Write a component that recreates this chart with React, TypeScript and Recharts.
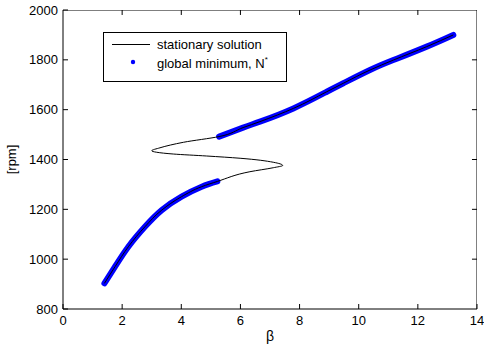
import React from 'react';
import { ComposedChart, Line, XAxis, YAxis, Legend } from 'recharts';

// stationary solution: [beta, rpm] (ordered by rpm)
const stationaryBeta = [1.4, 1.76, 2.21, 2.77, 3.34, 4.01, 4.69, 5.22, 6.32, 7.11, 7.43, 7.11, 5.99, 4.86, 3.73, 3.17, 3.0, 3.28, 4.07, 5.28, 6.09, 6.66, 7.79, 8.92, 9.48, 10.38, 11.17, 12.3, 13.2];
const stationaryRpm = [903, 970, 1050, 1130, 1197, 1251, 1291, 1312, 1351, 1367, 1376, 1389, 1405, 1414, 1422, 1429, 1435, 1447, 1469, 1492, 1528, 1552, 1605, 1672, 1706, 1759, 1799, 1853, 1900];

// global minimum branches
const lowerMinBeta = [1.4, 1.76, 2.21, 2.77, 3.34, 4.01, 4.69, 5.22];
const lowerMinRpm = [903, 970, 1050, 1130, 1197, 1251, 1291, 1312];
const upperMinBeta = [5.28, 6.09, 6.66, 7.79, 8.92, 9.48, 10.38, 11.17, 12.3, 13.2];
const upperMinRpm = [1492, 1528, 1552, 1605, 1672, 1706, 1759, 1799, 1853, 1900];

const xTicks = [0, 2, 4, 6, 8, 10, 12, 14];
const yTicks = [800, 1000, 1200, 1400, 1600, 1800, 2000];

const legendLine = 'stationary solution';
const legendDot = 'global minimum, N';

const zip = (xs: number[], ys: number[]) => xs.map((b, i) => ({ beta: b, rpm: ys[i] }));
const stationary = zip(stationaryBeta, stationaryRpm);
const lowerMin = zip(lowerMinBeta, lowerMinRpm);
const upperMin = zip(upperMinBeta, upperMinRpm);

const X_MIN = 0, X_MAX = 14, Y_MIN = 800, Y_MAX = 2000;
// inward tick length on the top/right edges, in data units (about 5 px)
const TOP_TICK_LEN = 20;
const RIGHT_TICK_LEN = 0.17;

// box frame (top and right edges) and inward ticks, drawn through the chart scales
const frame = [
  { beta: X_MIN, rpm: Y_MAX },
  { beta: X_MAX, rpm: Y_MAX },
  { beta: X_MAX, rpm: Y_MIN },
];
const topTicks = xTicks.slice(1, -1).map((t) => [
  { beta: t, rpm: Y_MAX },
  { beta: t, rpm: Y_MAX - TOP_TICK_LEN },
]);
const rightTicks = yTicks.slice(1, -1).map((t) => [
  { beta: X_MAX, rpm: t },
  { beta: X_MAX - RIGHT_TICK_LEN, rpm: t },
]);

const FONT = '"Liberation Sans", Arial, Helvetica, sans-serif';
const TICK = 5;

const BottomTick = (p: any) => (
  <g>
    <line x1={p.x} y1={p.y} x2={p.x} y2={p.y - TICK} stroke="#000" strokeWidth={1} />
    <text x={p.x} y={p.y + 16} textAnchor="middle" fontSize={13} fontFamily={FONT} fill="#000">
      {p.payload.value}
    </text>
  </g>
);
const LeftTick = (p: any) => (
  <g>
    <line x1={p.x} y1={p.y} x2={p.x + TICK} y2={p.y} stroke="#000" strokeWidth={1} />
    <text x={p.x - 5} y={p.y} dy="0.35em" textAnchor="end" fontSize={13} fontFamily={FONT} fill="#000">
      {p.payload.value}
    </text>
  </g>
);

const LegendBox = () => (
  <svg width={185} height={51} style={{ display: 'block' }}>
    <rect x={0.5} y={0.5} width={183} height={49} fill="#fff" stroke="#000" strokeWidth={1} />
    <line x1={9} y1={12.5} x2={47} y2={12.5} stroke="#000" strokeWidth={1} />
    <text x={54} y={12.5} dy="0.35em" fontSize={13} fontFamily={FONT} fill="#000">{legendLine}</text>
    <circle cx={30} cy={30} r={2.2} fill="#0000ff" />
    <text x={54} y={31} dy="0.35em" fontSize={13} fontFamily={FONT} fill="#000">
      {legendDot}
      <tspan fontSize={8} dy={-6}>*</tspan>
    </text>
  </svg>
);

export default function App() {
  return (
    <div style={{ position: 'absolute', left: 0, top: 0 }}>
      <ComposedChart width={484} height={347} data={stationary} margin={{ top: 10, right: 7, left: 0, bottom: 0 }}>
        <XAxis
          type="number"
          dataKey="beta"
          domain={[X_MIN, X_MAX]}
          ticks={xTicks}
          interval={0}
          height={38}
          tickSize={0}
          tickMargin={0}
          tickLine={false}
          tick={<BottomTick />}
          axisLine={{ stroke: '#000', strokeWidth: 1 }}
          allowDataOverflow
          label={{ value: 'β', position: 'insideBottom', offset: 6, fontSize: 14, fontFamily: FONT, fill: '#000' }}
        />
        <YAxis
          type="number"
          dataKey="rpm"
          domain={[Y_MIN, Y_MAX]}
          ticks={yTicks}
          interval={0}
          width={63}
          tickSize={0}
          tickMargin={0}
          tickLine={false}
          tick={<LeftTick />}
          axisLine={{ stroke: '#000', strokeWidth: 1 }}
          allowDataOverflow
          label={{ value: '[rpm]', angle: -90, position: 'insideLeft', offset: 11, fontSize: 13, fontFamily: FONT, fill: '#000', style: { textAnchor: 'middle' } }}
        />
        <Line
          data={frame}
          dataKey="rpm"
          type="linear"
          stroke="#000"
          strokeWidth={1}
          strokeLinejoin="miter"
          dot={false}
          activeDot={false}
          isAnimationActive={false}
        />
        {topTicks.map((seg, i) => (
          <Line
            key={'tt' + i}
            data={seg}
            dataKey="rpm"
            type="linear"
            stroke="#000"
            strokeWidth={1}
            dot={false}
            activeDot={false}
            isAnimationActive={false}
          />
        ))}
        {rightTicks.map((seg, i) => (
          <Line
            key={'rt' + i}
            data={seg}
            dataKey="rpm"
            type="linear"
            stroke="#000"
            strokeWidth={1}
            dot={false}
            activeDot={false}
            isAnimationActive={false}
          />
        ))}
        <Line
          data={lowerMin}
          dataKey="rpm"
          type="natural"
          stroke="#0000ff"
          strokeWidth={6}
          strokeLinecap="round"
          dot={false}
          activeDot={false}
          isAnimationActive={false}
        />
        <Line
          data={upperMin}
          dataKey="rpm"
          type="natural"
          stroke="#0000ff"
          strokeWidth={6}
          strokeLinecap="round"
          dot={false}
          activeDot={false}
          isAnimationActive={false}
        />
        <Line
          dataKey="rpm"
          type="monotoneY"
          stroke="#000"
          strokeWidth={1}
          dot={false}
          activeDot={false}
          isAnimationActive={false}
        />
        <Legend
          layout="vertical"
          align="center"
          verticalAlign="middle"
          content={<LegendBox />}
          wrapperStyle={{ position: 'absolute', left: 103, top: 32, width: 185, height: 51 }}
        />
      </ComposedChart>
    </div>
  );
}
